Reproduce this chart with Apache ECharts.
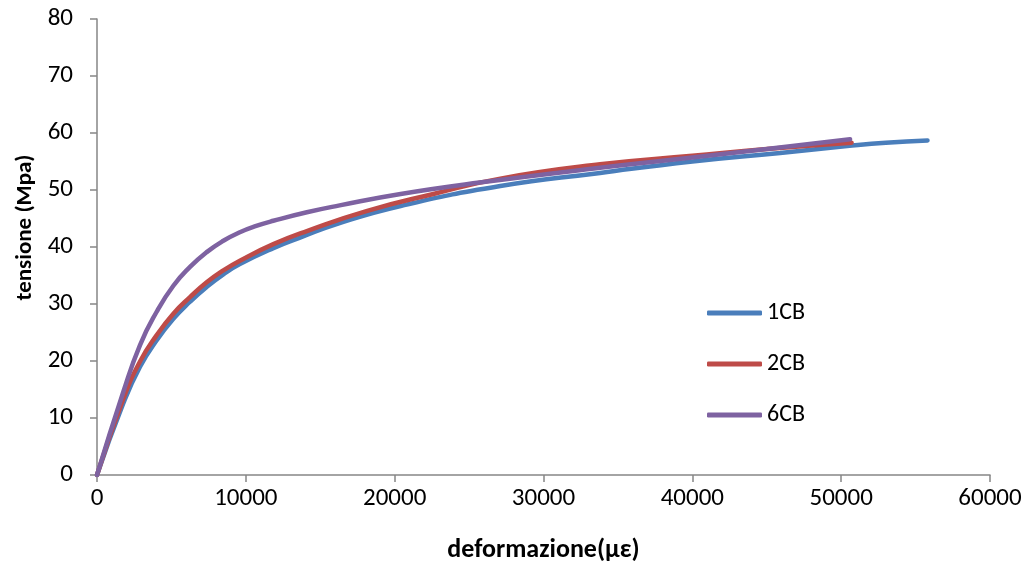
<!DOCTYPE html>
<html><head><meta charset="utf-8">
<script src="https://cdn.jsdelivr.net/npm/echarts@6/dist/echarts.min.js"></script>
<style>html,body{margin:0;padding:0;background:#fff}#c{width:1032px;height:568px}</style>
</head><body><div id="c"></div>
<script>
const seriesNames = ['1CB', '2CB', '6CB'];
const strain1CB = [0, 1770, 2890, 4000, 5130, 6250, 7370, 8490, 9600, 11850, 13600, 16300, 20400, 27100, 33800, 40000, 45900, 50400, 53000, 55800];
const stress1CB = [0, 12.6, 19.0, 23.6, 27.4, 30.4, 33.0, 35.2, 37.0, 39.8, 41.6, 44.2, 47.2, 50.7, 53.0, 55.0, 56.5, 57.7, 58.3, 58.7];
const strain2CB = [0, 1770, 2890, 4000, 5130, 6250, 7370, 8490, 9600, 11850, 14100, 18100, 22600, 27100, 33800, 40000, 45000, 50700];
const stress2CB = [0, 13.4, 19.9, 24.5, 28.3, 31.2, 33.8, 35.9, 37.6, 40.5, 42.8, 46.3, 49.3, 52.0, 54.5, 56.0, 57.2, 58.3];
const strain6CB = [0, 1770, 2890, 4000, 5130, 6250, 7370, 8490, 9600, 10700, 11850, 14100, 16300, 20400, 25700, 33800, 40000, 45000, 50600];
const stress6CB = [0, 14.6, 22.8, 28.6, 33.2, 36.5, 39.1, 41.1, 42.6, 43.7, 44.6, 46.1, 47.3, 49.3, 51.3, 53.9, 55.7, 57.2, 58.9];
const colors = ['#4a7ebb', '#be4b48', '#7e62a1'];

function pairs(xs, ys) { return xs.map((x, i) => [x, ys[i]]); }
const allData = [pairs(strain1CB, stress1CB), pairs(strain2CB, stress2CB), pairs(strain6CB, stress6CB)];

const chart = echarts.init(document.getElementById('c'));
const font = 'Carlito, "Open Sans", "Liberation Sans", sans-serif';
chart.setOption({
  animation: false,
  color: colors,
  grid: { left: 97, right: 42, top: 19, bottom: 91, containLabel: false },
  legend: {
    orient: 'vertical', left: 702, top: 295, itemGap: 25,
    itemWidth: 55, itemHeight: 5,
    icon: 'roundRect',
    textStyle: { fontFamily: font, fontSize: 24, lineHeight: 26, color: '#000' },
    data: seriesNames
  },
  xAxis: {
    type: 'value', min: 0, max: 60000, interval: 10000,
    name: 'deformazione(με)', nameLocation: 'middle', nameGap: 62,
    nameTextStyle: { fontFamily: font, fontSize: 26, fontWeight: 'bold', color: '#000' },
    axisLine: { lineStyle: { color: '#868686', width: 1.5 } },
    axisTick: { show: true, inside: false, length: 7, lineStyle: { color: '#868686', width: 1.5 } },
    axisLabel: { fontFamily: font, fontSize: 25, color: '#000', margin: 11, formatter: v => String(v) },
    splitLine: { show: false }
  },
  yAxis: {
    type: 'value', min: 0, max: 80, interval: 10,
    name: 'tensione (Mpa)', nameLocation: 'middle', nameGap: 54, nameRotate: 90,
    nameTextStyle: { fontFamily: font, fontSize: 23, fontWeight: 'bold', color: '#000', padding: [0, 0, 0, 39] },
    axisLine: { show: true, lineStyle: { color: '#868686', width: 1.5 } },
    axisTick: { show: true, inside: false, length: 7, lineStyle: { color: '#868686', width: 1.5 } },
    axisLabel: { fontFamily: font, fontSize: 25, color: '#000', margin: 24 },
    splitLine: { show: false }
  },
  series: seriesNames.map((n, i) => ({
    name: n, type: 'line', data: allData[i], smooth: 0.5,
    showSymbol: false, symbol: 'none',
    lineStyle: { width: 4.5, color: colors[i], cap: 'round' },
    itemStyle: { color: colors[i] }
  }))
});
</script></body></html>
